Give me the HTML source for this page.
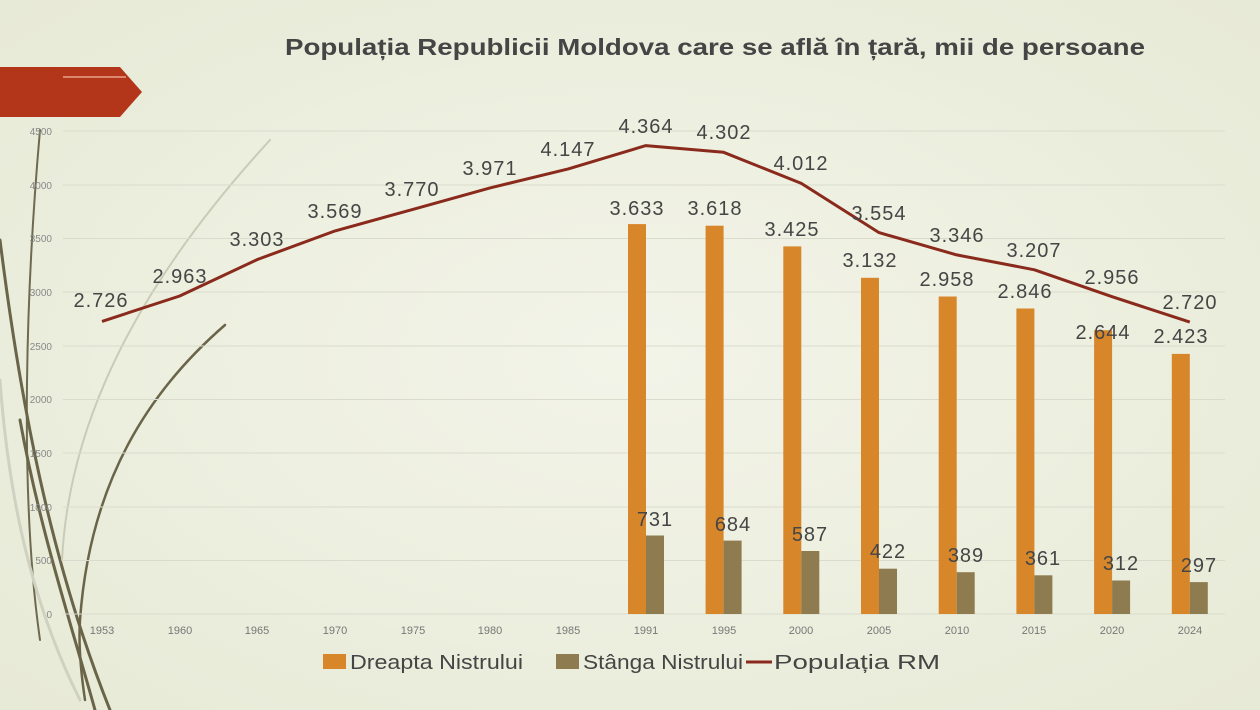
<!DOCTYPE html>
<html><head><meta charset="utf-8"><style>
html,body{margin:0;padding:0;width:1260px;height:710px;overflow:hidden;background:#eef0e1;}
svg{display:block;font-family:"Liberation Sans",sans-serif;}
</style></head><body>
<svg width="1260" height="710" viewBox="0 0 1260 710">
<defs><radialGradient id="bg" cx="0.5" cy="0.5" r="0.7"><stop offset="0" stop-color="#f3f4e9"/><stop offset="1" stop-color="#e7ead6"/></radialGradient></defs>
<rect width="1260" height="710" fill="url(#bg)"/>
<g fill="none" stroke-linecap="round">
<path d="M40 130 C25 300 20 500 40 640" stroke="#6e6a50" stroke-width="2"/>
<path d="M0 240 C20 400 50 560 110 710" stroke="#6a6448" stroke-width="3"/>
<path d="M20 420 C40 530 70 620 95 710" stroke="#6a6448" stroke-width="3"/>
<path d="M225 325 C150 390 90 480 80 620 C78 650 82 680 85 700" stroke="#6a6448" stroke-width="2.5"/>
<path d="M270 140 C160 260 70 400 62 560" stroke="#c8ccb6" stroke-width="2"/>
<path d="M0 380 C10 520 40 620 80 700" stroke="#cfd2c0" stroke-width="3"/>
</g>
<polygon points="0,67 120,67 142,92 120,117 0,117" fill="#b3361a"/>
<line x1="63" y1="77" x2="126" y2="77" stroke="#e9a08a" stroke-width="1.5"/>
<text x="285" y="55" textLength="860" lengthAdjust="spacingAndGlyphs" font-size="23" font-weight="bold" fill="#454545">Populația Republicii Moldova care se află în țară, mii de persoane</text>
<g stroke="#d9dccc" stroke-width="1">
<line x1="63" x2="1225" y1="131" y2="131"/><line x1="63" x2="1225" y1="185" y2="185"/><line x1="63" x2="1225" y1="238.5" y2="238.5"/><line x1="63" x2="1225" y1="292" y2="292"/><line x1="63" x2="1225" y1="346" y2="346"/><line x1="63" x2="1225" y1="399.5" y2="399.5"/><line x1="63" x2="1225" y1="453" y2="453"/><line x1="63" x2="1225" y1="507" y2="507"/><line x1="63" x2="1225" y1="560.5" y2="560.5"/><line x1="63" x2="1225" y1="614" y2="614"/>
</g>
<g font-size="10" fill="#888" text-anchor="end">
<text x="52" y="135">4500</text><text x="52" y="189">4000</text><text x="52" y="242">3500</text><text x="52" y="296">3000</text><text x="52" y="350">2500</text><text x="52" y="403">2000</text><text x="52" y="457">1500</text><text x="52" y="511">1000</text><text x="52" y="564">500</text><text x="52" y="618">0</text>
</g>
<g font-size="11" fill="#777" text-anchor="middle">
<text x="102" y="634">1953</text><text x="180" y="634">1960</text><text x="257" y="634">1965</text><text x="335" y="634">1970</text><text x="413" y="634">1975</text><text x="490" y="634">1980</text><text x="568" y="634">1985</text><text x="646" y="634">1991</text><text x="724" y="634">1995</text><text x="801" y="634">2000</text><text x="879" y="634">2005</text><text x="957" y="634">2010</text><text x="1034" y="634">2015</text><text x="1112" y="634">2020</text><text x="1190" y="634">2024</text>
</g>
<g fill="#d8862a">
<rect x="628" y="224.1" width="18" height="389.9"/><rect x="705.6" y="225.7" width="18" height="388.3"/><rect x="783.3" y="246.4" width="18" height="367.6"/><rect x="861" y="277.8" width="18" height="336.2"/><rect x="938.7" y="296.5" width="18" height="317.5"/><rect x="1016.4" y="308.5" width="18" height="305.5"/><rect x="1094.1" y="330.2" width="18" height="283.8"/><rect x="1171.8" y="353.9" width="18" height="260.1"/>
</g>
<g fill="#8e7c50">
<rect x="646" y="535.5" width="18" height="78.5"/><rect x="723.6" y="540.6" width="18" height="73.4"/><rect x="801.3" y="551" width="18" height="63"/><rect x="879" y="568.7" width="18" height="45.3"/><rect x="956.7" y="572.2" width="18" height="41.8"/><rect x="1034.4" y="575.3" width="18" height="38.7"/><rect x="1112.1" y="580.5" width="18" height="33.5"/><rect x="1189.8" y="582.1" width="18" height="31.9"/>
</g>
<polyline fill="none" stroke="#8a2a1c" stroke-width="3" stroke-linejoin="round" points="102,321.4 179.7,296 257.4,259.5 335.1,230.9 412.8,209.4 490.5,187.8 568.2,168.9 645.9,145.6 723.6,152.3 801.3,183.4 879,232.6 956.7,254.9 1034.4,269.8 1112.1,296.7 1189.8,322.1"/>
<g font-size="20" fill="#454545" text-anchor="middle" letter-spacing="1">
<text x="101" y="307">2.726</text><text x="180" y="283">2.963</text><text x="257" y="246">3.303</text><text x="335" y="218">3.569</text><text x="412" y="196">3.770</text><text x="490" y="175">3.971</text><text x="568" y="156">4.147</text><text x="646" y="133">4.364</text><text x="724" y="139">4.302</text><text x="801" y="170">4.012</text><text x="879" y="220">3.554</text><text x="957" y="242">3.346</text><text x="1034" y="257">3.207</text><text x="1112" y="284">2.956</text><text x="1190" y="309">2.720</text>
<text x="637" y="215">3.633</text><text x="715" y="215">3.618</text><text x="792" y="236">3.425</text><text x="870" y="267">3.132</text><text x="947" y="286">2.958</text><text x="1025" y="298">2.846</text><text x="1103" y="339">2.644</text><text x="1181" y="343">2.423</text>
<text x="655" y="526">731</text><text x="733" y="531">684</text><text x="810" y="541">587</text><text x="888" y="558">422</text><text x="966" y="562">389</text><text x="1043" y="565">361</text><text x="1121" y="570">312</text><text x="1199" y="572">297</text>
</g>
<rect x="323" y="654" width="23" height="15" fill="#d8862a"/>
<text x="350" y="669" font-size="20" fill="#454545" textLength="173" lengthAdjust="spacingAndGlyphs">Dreapta Nistrului</text>
<rect x="556" y="654" width="23" height="15" fill="#8e7c50"/>
<text x="583" y="669" font-size="20" fill="#454545" textLength="160" lengthAdjust="spacingAndGlyphs">Stânga Nistrului</text>
<line x1="746" y1="662" x2="772" y2="662" stroke="#8a2a1c" stroke-width="3"/>
<text x="774" y="669" font-size="20" fill="#454545" textLength="166" lengthAdjust="spacingAndGlyphs">Populația RM</text>
</svg>
</body></html>
